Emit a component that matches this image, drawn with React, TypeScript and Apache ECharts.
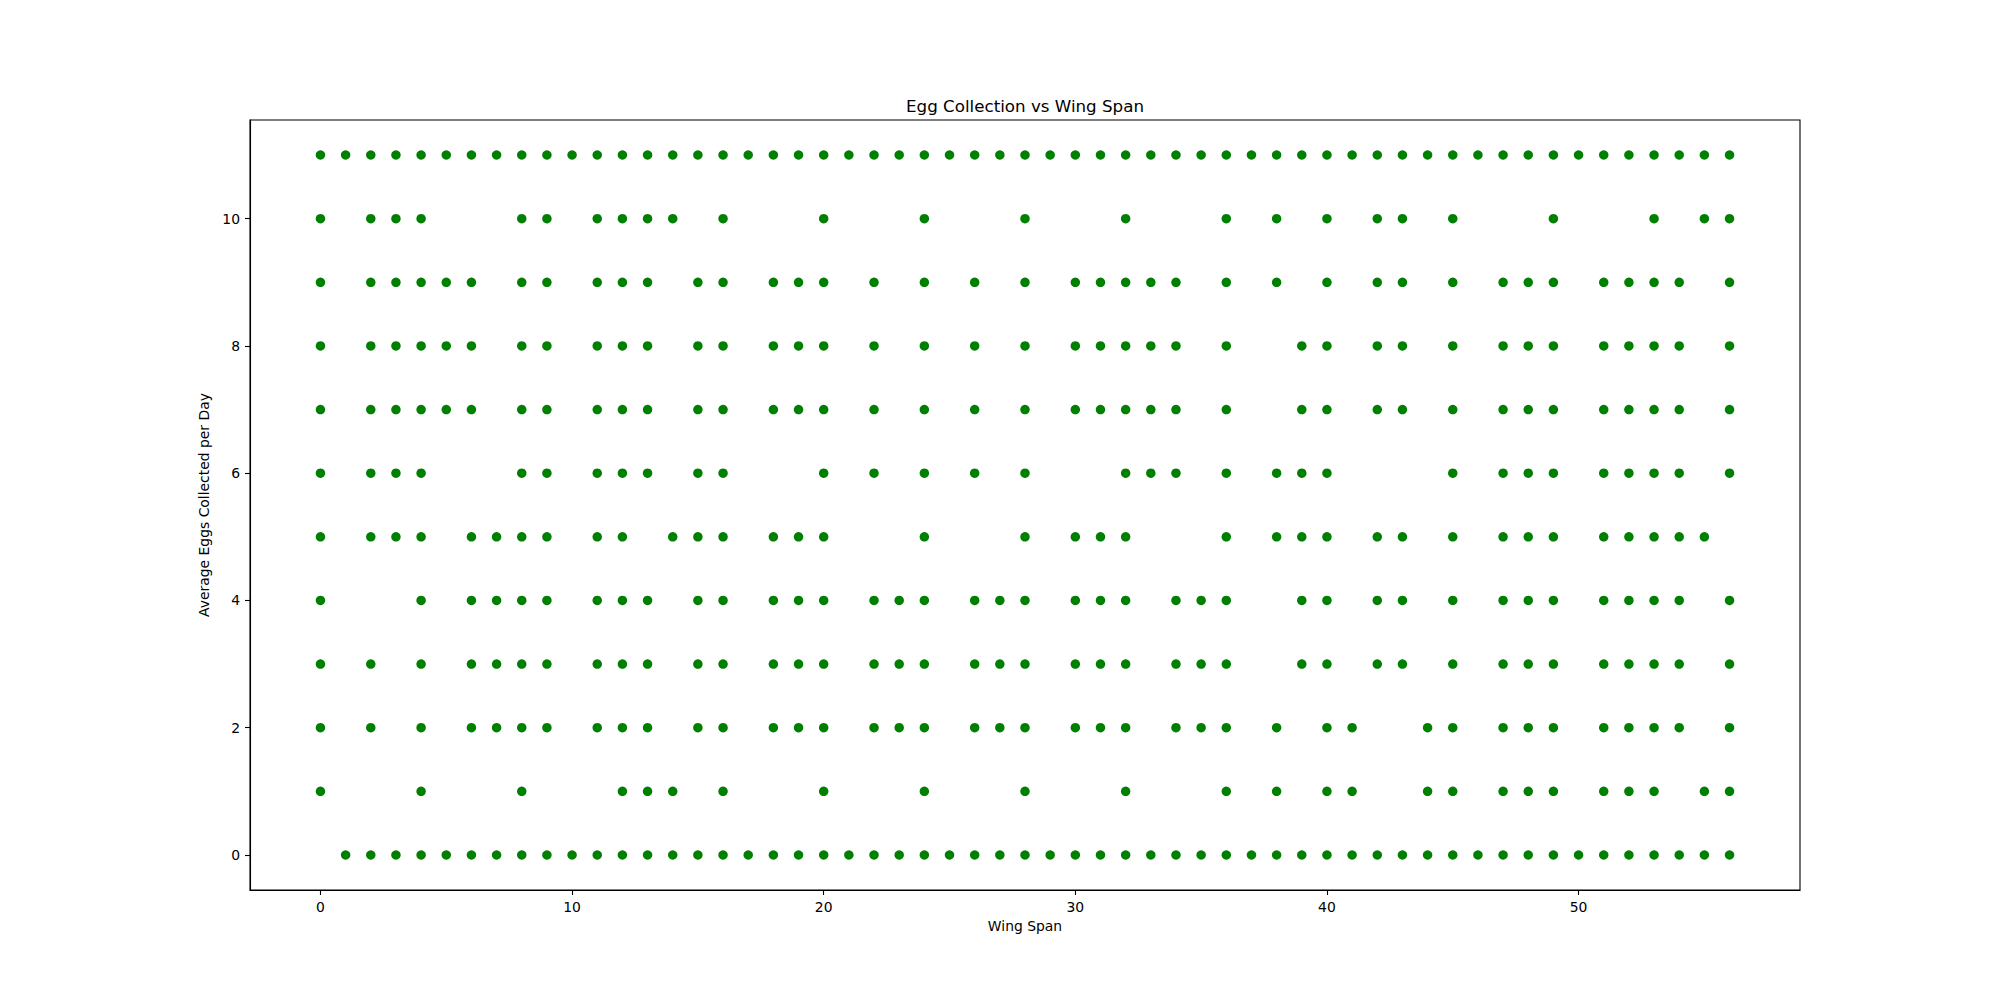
import React, { useEffect, useRef } from "react";
import * as echarts from "echarts";

const chartTitle = "Egg Collection vs Wing Span";
const xAxisName = "Wing Span";
const yAxisName = "Average Eggs Collected per Day";
const xTicks = [0, 10, 20, 30, 40, 50];
const yTicks = [0, 2, 4, 6, 8, 10];

// Wing span values present for each eggs-per-day level
const eggs0 = [1,2,3,4,5,6,7,8,9,10,11,12,13,14,15,16,17,18,19,20,21,22,23,24,25,26,27,28,29,30,31,32,33,34,35,36,37,38,39,40,41,42,43,44,45,46,47,48,49,50,51,52,53,54,55,56];
const eggs1 = [0,4,8,12,13,14,16,20,24,28,32,36,38,40,41,44,45,47,48,49,51,52,53,55,56];
const eggs2 = [0,2,4,6,7,8,9,11,12,13,15,16,18,19,20,22,23,24,26,27,28,30,31,32,34,35,36,38,40,41,44,45,47,48,49,51,52,53,54,56];
const eggs3 = [0,2,4,6,7,8,9,11,12,13,15,16,18,19,20,22,23,24,26,27,28,30,31,32,34,35,36,39,40,42,43,45,47,48,49,51,52,53,54,56];
const eggs4 = [0,4,6,7,8,9,11,12,13,15,16,18,19,20,22,23,24,26,27,28,30,31,32,34,35,36,39,40,42,43,45,47,48,49,51,52,53,54,56];
const eggs5 = [0,2,3,4,6,7,8,9,11,12,14,15,16,18,19,20,24,28,30,31,32,36,38,39,40,42,43,45,47,48,49,51,52,53,54,55];
const eggs6 = [0,2,3,4,8,9,11,12,13,15,16,20,22,24,26,28,32,33,34,36,38,39,40,45,47,48,49,51,52,53,54,56];
const eggs7 = [0,2,3,4,5,6,8,9,11,12,13,15,16,18,19,20,22,24,26,28,30,31,32,33,34,36,39,40,42,43,45,47,48,49,51,52,53,54,56];
const eggs8 = [0,2,3,4,5,6,8,9,11,12,13,15,16,18,19,20,22,24,26,28,30,31,32,33,34,36,39,40,42,43,45,47,48,49,51,52,53,54,56];
const eggs9 = [0,2,3,4,5,6,8,9,11,12,13,15,16,18,19,20,22,24,26,28,30,31,32,33,34,36,38,40,42,43,45,47,48,49,51,52,53,54,56];
const eggs10 = [0,2,3,4,8,9,11,12,13,14,16,20,24,28,32,36,38,40,42,43,45,49,53,55,56];
const eggs11 = [0,1,2,3,4,5,6,7,8,9,10,11,12,13,14,15,16,17,18,19,20,21,22,23,24,25,26,27,28,29,30,31,32,33,34,35,36,37,38,39,40,41,42,43,44,45,46,47,48,49,50,51,52,53,54,55,56];

const eggLevels = [0, 1, 2, 3, 4, 5, 6, 7, 8, 9, 10, 11];
const wingSpansByLevel = [eggs0, eggs1, eggs2, eggs3, eggs4, eggs5, eggs6, eggs7, eggs8, eggs9, eggs10, eggs11];

const FONT = "DejaVu Sans";

export default function App() {
  const ref = useRef<HTMLDivElement>(null);

  useEffect(() => {
    if (!ref.current) return;
    const chart = echarts.init(ref.current, undefined, { renderer: "svg" });
    const points: number[][] = [];
    eggLevels.forEach((lvl, i) => {
      wingSpansByLevel[i].forEach((x) => points.push([x, lvl]));
    });
    chart.setOption({
      animation: false,
      backgroundColor: "#ffffff",
      title: {
        text: chartTitle,
        left: 1025,
        top: 97.5,
        textAlign: "center",
        padding: 0,
        textStyle: { fontFamily: FONT, fontSize: 16.7, fontWeight: "normal", color: "#000" },
      },
      grid: {
        left: 250,
        right: 200,
        top: 120,
        bottom: 110,
        show: true,
        borderColor: "#000",
        borderWidth: 1.1,
        backgroundColor: "transparent",
      },
      xAxis: {
        type: "value",
        min: -2.8,
        max: 58.8,
        minInterval: 10,
        maxInterval: 10,
        splitLine: { show: false },
        axisLine: { onZero: false, lineStyle: { color: "#000", width: 1.1 } },
        axisTick: { length: 5, lineStyle: { color: "#000", width: 1.1 }, customValues: xTicks },
        axisLabel: { customValues: xTicks, color: "#000", fontFamily: FONT, fontSize: 13.9, margin: 10 },
        name: xAxisName,
        nameLocation: "middle",
        nameGap: 29,
        nameTextStyle: { fontFamily: FONT, fontSize: 13.9, color: "#000" },
      },
      yAxis: {
        type: "value",
        min: -0.55,
        max: 11.55,
        minInterval: 2,
        maxInterval: 2,
        splitLine: { show: false },
        axisLine: { onZero: false, lineStyle: { color: "#000", width: 1.1 } },
        axisTick: { length: 5, lineStyle: { color: "#000", width: 1.1 }, customValues: yTicks },
        axisLabel: { customValues: yTicks, color: "#000", fontFamily: FONT, fontSize: 13.9, margin: 10 },
        name: yAxisName,
        nameLocation: "middle",
        nameGap: 27,
        nameTextStyle: { fontFamily: FONT, fontSize: 13.9, color: "#000" },
      },
      series: [
        {
          type: "scatter",
          symbol: "circle",
          symbolSize: 9.5,
          itemStyle: { color: "#008000", opacity: 1 },
          data: points,
        },
      ],
    });
    return () => chart.dispose();
  }, []);

  return (
    <div
      ref={ref}
      style={{ position: "fixed", left: 0, top: 0, width: 2000, height: 1000, background: "#fff" }}
    />
  );
}
